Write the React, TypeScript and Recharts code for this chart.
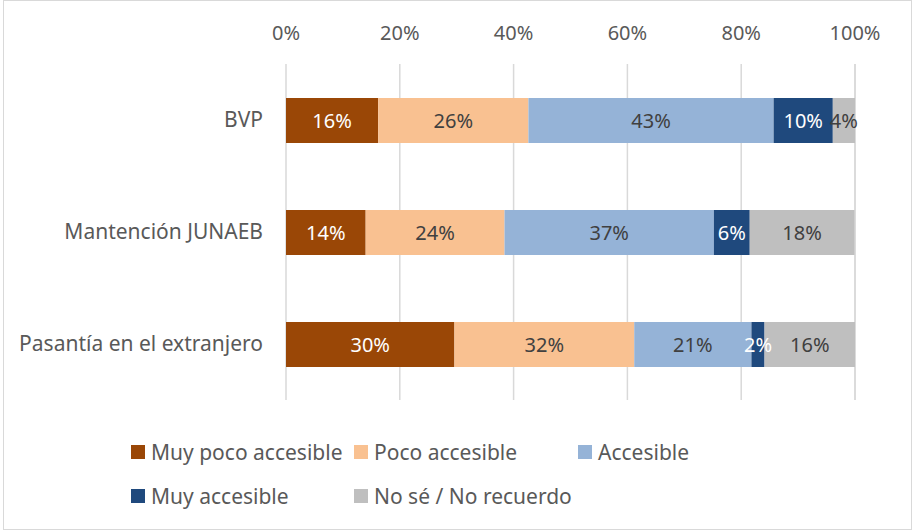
import React from "react";
import { BarChart, Bar, XAxis, YAxis, CartesianGrid, LabelList, Legend } from "recharts";

const categories = ["BVP", "Mantención JUNAEB", "Pasantía en el extranjero"];
const muyPoco = [16.2, 14.0, 29.6];
const poco = [26.4, 24.4, 31.6];
const accesible = [43.1, 36.8, 20.6];
const muyAccesible = [10.4, 6.3, 2.3];
const noSe = [3.9, 18.4, 15.9];
const xTicks = [0, 20, 40, 60, 80, 100];

const seriesNames = ["Muy poco accesible", "Poco accesible", "Accesible", "Muy accesible", "No sé / No recuerdo"];
const seriesKeys = ["muyPoco", "poco", "accesible", "muyAccesible", "noSe"];
const seriesColors = ["#9A4706", "#F9C191", "#95B3D7", "#1F497D", "#BFBFBF"];
const labelColors = ["#FFFFFF", "#404040", "#404040", "#FFFFFF", "#404040"];
const seriesValues = [muyPoco, poco, accesible, muyAccesible, noSe];

const data = categories.map((c, i) => {
  const row: Record<string, any> = { name: c };
  seriesKeys.forEach((k, j) => {
    row[k] = seriesValues[j][i];
  });
  return row;
});

const FONT = "'Noto Sans', sans-serif";

const renderLegend = () => (
  <div
    style={{
      display: "grid",
      gridTemplateColumns: "223px 224px 223px",
      rowGap: "18px",
      paddingLeft: 131,
      fontFamily: FONT,
      fontSize: 21,
      color: "#595959",
    }}
  >
    {seriesNames.map((n, i) => (
      <div key={n} style={{ display: "flex", alignItems: "center", height: 26, whiteSpace: "nowrap" }}>
        <span style={{ display: "inline-block", width: 14, height: 14, background: seriesColors[i], marginRight: 6 }} />
        <span>{n}</span>
      </div>
    ))}
  </div>
);

export default function App() {
  return (
    <div style={{ position: "absolute", left: 0, top: 0, width: 912, height: 530, background: "#fff" }}>
      <div
        style={{
          position: "absolute",
          left: 3,
          top: 0,
          width: 909,
          height: 530,
          border: "1px solid #d9d9d9",
          boxSizing: "border-box",
        }}
      />
      <div style={{ position: "absolute", left: 0, top: 0 }}>
        <BarChart
          width={912}
          height={530}
          data={data}
          layout="vertical"
          margin={{ top: 0, right: 57, bottom: 130, left: 0 }}
          barCategoryGap={33}
        >
          <CartesianGrid horizontal={false} stroke="#d9d9d9" strokeWidth={1.5} />
          <XAxis
            type="number"
            orientation="top"
            domain={[0, 100]}
            ticks={xTicks}
            tickFormatter={(v: number) => `${v}%`}
            axisLine={false}
            tickLine={false}
            height={64}
            tickMargin={18}
            tick={{ fill: "#595959", fontSize: 20, fontFamily: FONT }}
            interval={0}
          />
          <YAxis
            type="category"
            dataKey="name"
            width={286}
            axisLine={false}
            tickLine={false}
            tickMargin={17}
            tick={{ fill: "#595959", fontSize: 21, fontFamily: FONT }}
          />
          <Legend
            layout="horizontal"
            verticalAlign="middle"
            align="center"
            content={renderLegend}
            wrapperStyle={{ left: 0, top: 439, width: 912, height: 90 }}
          />
          {seriesKeys.map((k, i) => (
            <Bar
              key={k}
              dataKey={k}
              name={seriesNames[i]}
              stackId="a"
              fill={seriesColors[i]}
              barSize={45}
              isAnimationActive={false}
            >
              <LabelList
                dataKey={k}
                position="center"
                formatter={(v: number) => `${Math.round(v)}%`}
                style={{ fill: labelColors[i], fontSize: 20, fontFamily: FONT }}
              />
            </Bar>
          ))}
        </BarChart>
      </div>
    </div>
  );
}
